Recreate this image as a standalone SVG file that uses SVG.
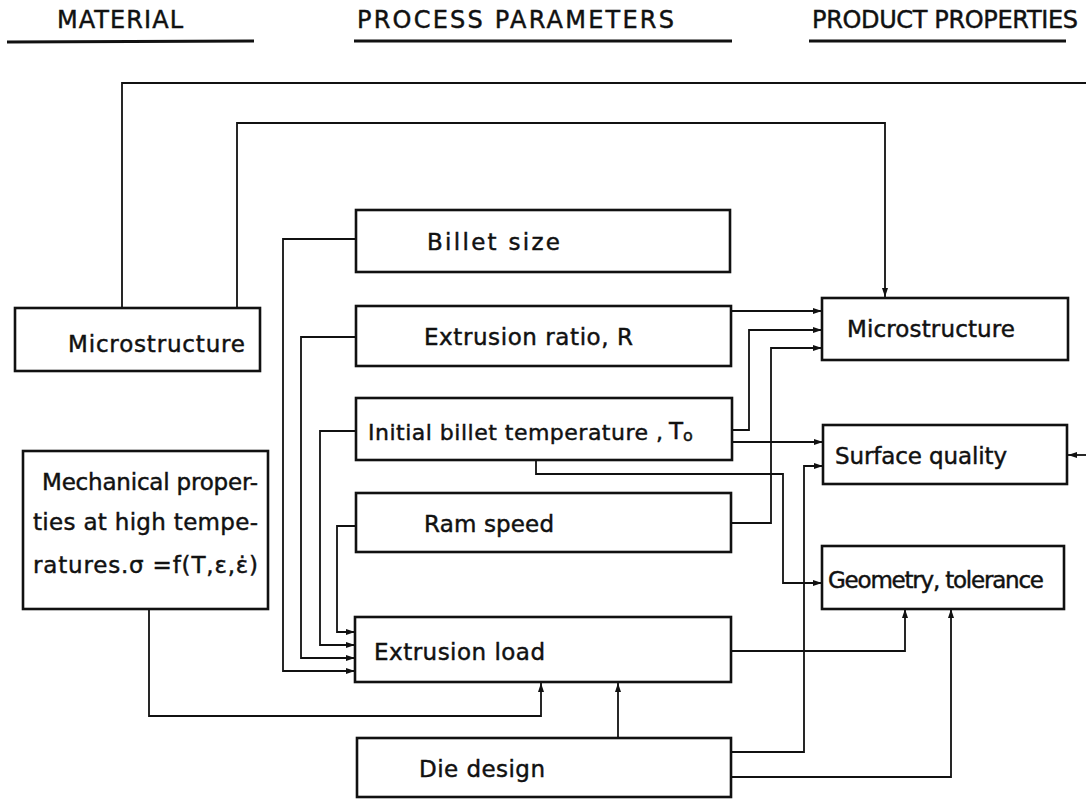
<svg xmlns="http://www.w3.org/2000/svg" width="1086" height="799" viewBox="0 0 1086 799">
<style>
text{font-family:"DejaVu Sans","Liberation Sans",sans-serif;fill:#111;stroke:#111;stroke-width:0.45;}
.h{font-size:24px;}
.t{font-size:23px;}
.box{fill:#fff;stroke:#111;stroke-width:2.6;}
.ul{stroke:#111;stroke-width:3;fill:none;}
.c path,.c line,.c polyline{stroke:#111;stroke-width:1.8;fill:none;}
</style>
<defs>
<marker id="a" markerUnits="userSpaceOnUse" markerWidth="9" markerHeight="7" refX="9" refY="3.5" orient="auto">
<path d="M0,0.5 L9,3.5 L0,6.5 z" fill="#111"/>
</marker>
</defs>
<rect width="1086" height="799" fill="#fff"/>
<g id="headers">
<text class="h" x="57" y="28" textLength="126" lengthAdjust="spacing">MATERIAL</text>
<line class="ul" x1="7" y1="42" x2="254" y2="41"/>
<text class="h" x="357" y="28" textLength="317" lengthAdjust="spacing">PROCESS PARAMETERS</text>
<line class="ul" x1="354" y1="41" x2="732" y2="41"/>
<text class="h" x="812" y="28" textLength="266" lengthAdjust="spacing">PRODUCT PROPERTIES</text>
<line class="ul" x1="809" y1="41" x2="1066" y2="41"/>
</g>
<g id="connectors" class="c">
<polyline points="122,308 122,83 1086,83"/>
<polyline points="237,308 237,123 885,123 885,297" marker-end="url(#a)"/>
<line x1="1086" y1="455" x2="1068" y2="455" marker-end="url(#a)"/>
<line x1="732" y1="311" x2="822" y2="311" marker-end="url(#a)"/>
<polyline points="733,430 749,430 749,330 822,330" marker-end="url(#a)"/>
<polyline points="732,523 771,523 771,348 822,348" marker-end="url(#a)"/>
<line x1="733" y1="442" x2="823" y2="442" marker-end="url(#a)"/>
<polyline points="732,752 804,752 804,466 823,466" marker-end="url(#a)"/>
<polyline points="536,460 536,474 783,474 783,583 822,583" marker-end="url(#a)"/>
<polyline points="731,651 905,651 905,609" marker-end="url(#a)"/>
<polyline points="731,777 951,777 951,609" marker-end="url(#a)"/>
<line x1="618" y1="738" x2="618" y2="683" marker-end="url(#a)"/>
<polyline points="149,610 149,716 541,716 541,683" marker-end="url(#a)"/>
<polyline points="356,239 283,239 283,671 355,671" marker-end="url(#a)"/>
<polyline points="356,337 301,337 301,658 355,658" marker-end="url(#a)"/>
<polyline points="356,431 320,431 320,645 355,645" marker-end="url(#a)"/>
<polyline points="356,526 337,526 337,632 355,632" marker-end="url(#a)"/>
</g>
<g id="mat-micro">
<rect class="box" x="15" y="308" width="245" height="63"/>
<text class="t" x="68" y="352" textLength="177" lengthAdjust="spacing">Microstructure</text>
</g>
<g id="mech">
<rect class="box" x="23" y="451" width="245" height="158"/>
<text class="t" x="42" y="490" textLength="216" lengthAdjust="spacing">Mechanical proper-</text>
<text class="t" x="33" y="530" textLength="225" lengthAdjust="spacing">ties at high tempe-</text>
<text class="t" x="33" y="573" textLength="225" lengthAdjust="spacing">ratures.σ =f(T,ε,ε̇)</text>
</g>
<g id="billet">
<rect class="box" x="356" y="210" width="374" height="62"/>
<text class="t" x="427" y="250" textLength="133" lengthAdjust="spacing">Billet  size</text>
</g>
<g id="ratio">
<rect class="box" x="356" y="306" width="375" height="60"/>
<text class="t" x="424" y="345" textLength="209" lengthAdjust="spacing">Extrusion ratio, R</text>
</g>
<g id="temp">
<rect class="box" x="356" y="398" width="376" height="62"/>
<text class="t" x="368" y="440" font-size="22" style="font-size:22px" textLength="295" lengthAdjust="spacing">Initial billet temperature ,</text>
<text class="t" x="669" y="439">T<tspan font-size="16" style="font-size:16px" dy="2">o</tspan></text>
</g>
<g id="ram">
<rect class="box" x="356" y="493" width="375" height="59"/>
<text class="t" x="424" y="532" textLength="130" lengthAdjust="spacing">Ram  speed</text>
</g>
<g id="load">
<rect class="box" x="355" y="617" width="376" height="65"/>
<text class="t" x="374" y="660" textLength="171" lengthAdjust="spacing">Extrusion load</text>
</g>
<g id="die">
<rect class="box" x="357" y="738" width="374" height="59"/>
<text class="t" x="419" y="777" textLength="126" lengthAdjust="spacing">Die  design</text>
</g>
<g id="prod-micro">
<rect class="box" x="822" y="298" width="246" height="62"/>
<text class="t" x="847" y="337" textLength="168" lengthAdjust="spacing">Microstructure</text>
</g>
<g id="surface">
<rect class="box" x="823" y="425" width="244" height="59"/>
<text class="t" x="835" y="464" textLength="172" lengthAdjust="spacing">Surface quality</text>
</g>
<g id="geometry">
<rect class="box" x="822" y="546" width="242" height="63"/>
<text class="t" x="828" y="588" textLength="216" lengthAdjust="spacing">Geometry, tolerance</text>
</g>
</svg>
